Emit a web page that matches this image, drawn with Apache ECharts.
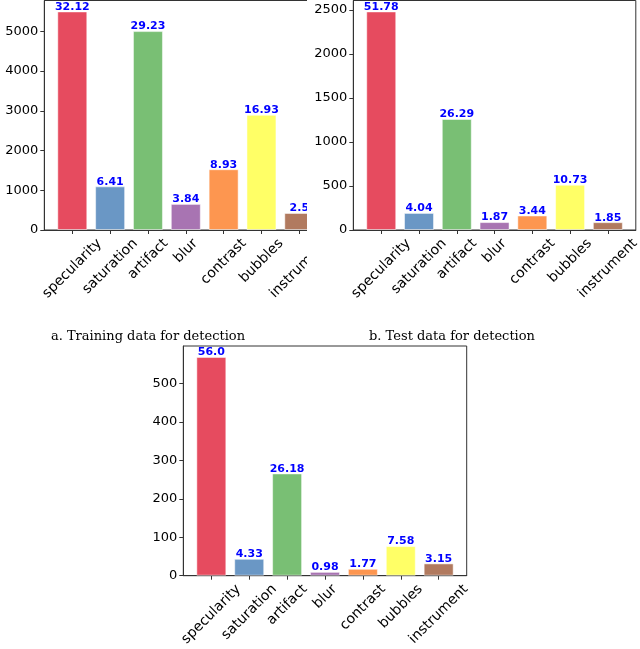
<!DOCTYPE html>
<html>
<head>
<meta charset="utf-8">
<script src="https://cdn.jsdelivr.net/npm/echarts@6/dist/echarts.min.js"></script>
<style>
html, body { margin: 0; padding: 0; background: #fff; }
#wrap-a { position: absolute; left: 0; top: 0; width: 307px; height: 330px; overflow: hidden; }
#chart-a { width: 340px; height: 330px; }
#main { position: absolute; left: 0; top: 0; width: 640px; height: 649px; }
</style>
</head>
<body>
<div id="wrap-a"><div id="chart-a"></div></div>
<div id="main"></div>
<script>
// data
const categories = ['specularity', 'saturation', 'artifact', 'blur', 'contrast', 'bubbles', 'instrument'];
const barColors = ['#e64b5f', '#6a97c5', '#79bf74', '#a874b2', '#fd9650', '#ffff66', '#b17a5f'];

const trainCounts = [5500, 1098, 5005, 657, 1529, 2899, 428];
const trainPct = ['32.12', '6.41', '29.23', '3.84', '8.93', '16.93', '2.5'];
const trainTicks = [0, 1000, 2000, 3000, 4000, 5000];

const testCounts = [2485, 194, 1262, 90, 165, 515, 89];
const testPct = ['51.78', '4.04', '26.29', '1.87', '3.44', '10.73', '1.85'];
const testTicks = [0, 500, 1000, 1500, 2000, 2500];

const thirdCounts = [569, 44, 266, 10, 18, 77, 32];
const thirdPct = ['56.0', '4.33', '26.18', '0.98', '1.77', '7.58', '3.15'];
const thirdTicks = [0, 100, 200, 300, 400, 500];

const captions = ['a. Training data for detection', 'b. Test data for detection'];

const FONT = 'DejaVu Sans';
const LINE = '#333';
const catTicks = categories.map((c, i) => i);

// matplotlib style rotation=45, ha=center: shift each label by its own width
const ctx = document.createElement('canvas').getContext('2d');
ctx.font = '14px "' + FONT + '"';
const labelRich = {};
categories.forEach((c, i) => {
  const p = (ctx.measureText(c).width + 15) / 2;
  labelRich['c' + i] = { fontSize: 14, fontFamily: FONT, color: '#000', padding: [p, p, 0, 0] };
});

function panel (idx, box, counts, pct, ticks) {
  const yMax = Math.max(...counts) * 1.05;
  return {
    grid: Object.assign({
      show: true, borderColor: LINE, borderWidth: 1,
      backgroundColor: 'transparent', outerBoundsMode: 'none', containLabel: false
    }, box),
    xAxis: {
      gridIndex: idx, type: 'value', min: -0.74, max: 6.74,
      axisLine: { show: true, onZero: false, lineStyle: { color: LINE } },
      axisTick: { show: true, length: 4, customValues: catTicks, lineStyle: { color: LINE } },
      splitLine: { show: false },
      axisLabel: {
        customValues: catTicks, rotate: 45, align: 'center', verticalAlign: 'middle', margin: 6,
        formatter: v => '{c' + Math.round(v) + '|' + categories[Math.round(v)] + '}',
        rich: labelRich
      }
    },
    yAxis: {
      gridIndex: idx, type: 'value', min: 0, max: yMax,
      axisLine: { show: true, onZero: false, lineStyle: { color: LINE } },
      axisTick: { show: true, length: 4, customValues: ticks, lineStyle: { color: LINE } },
      splitLine: { show: false },
      axisLabel: {
        customValues: ticks, fontSize: 13, fontFamily: FONT, color: '#000', margin: 6,
        formatter: v => String(v)
      }
    },
    series: {
      type: 'bar', xAxisIndex: idx, yAxisIndex: idx, barWidth: 30,
      data: counts.map((v, i) => ({ value: [i, v], itemStyle: { color: barColors[i] } })),
      itemStyle: { borderColor: 'rgba(255,255,255,0.5)', borderWidth: 1 },
      label: {
        show: true, position: 'top', distance: -1,
        formatter: p => pct[p.dataIndex],
        color: '#0000ff', fontWeight: 'bold', fontSize: 11, fontFamily: FONT
      }
    }
  };
}

function build (panels, extra) {
  return Object.assign({
    animation: false,
    backgroundColor: 'transparent',
    grid: panels.map(p => p.grid),
    xAxis: panels.map(p => p.xAxis),
    yAxis: panels.map(p => p.yAxis),
    series: panels.map(p => p.series)
  }, extra || {});
}

// chart a sits under chart b and gets cut at its right side
const chartA = echarts.init(document.getElementById('chart-a'));
chartA.setOption(build([
  panel(0, { left: 44.3, top: 0.5, width: 283, height: 229.5 }, trainCounts, trainPct, trainTicks)
]));

const chartMain = echarts.init(document.getElementById('main'));
chartMain.setOption(build([
  panel(0, { left: 353.3, top: 0.5, width: 282.5, height: 229.5 }, testCounts, testPct, testTicks),
  panel(1, { left: 183.3, top: 346, width: 283.4, height: 229.7 }, thirdCounts, thirdPct, thirdTicks)
], {
  graphic: [
    { type: 'text', x: 148, y: 336.5, style: { text: captions[0], align: 'center', verticalAlign: 'middle', fontFamily: 'DejaVu Serif', fontSize: 13, fill: '#000' } },
    { type: 'text', x: 452, y: 336.5, style: { text: captions[1], align: 'center', verticalAlign: 'middle', fontFamily: 'DejaVu Serif', fontSize: 13, fill: '#000' } }
  ]
}));
</script>
</body>
</html>
